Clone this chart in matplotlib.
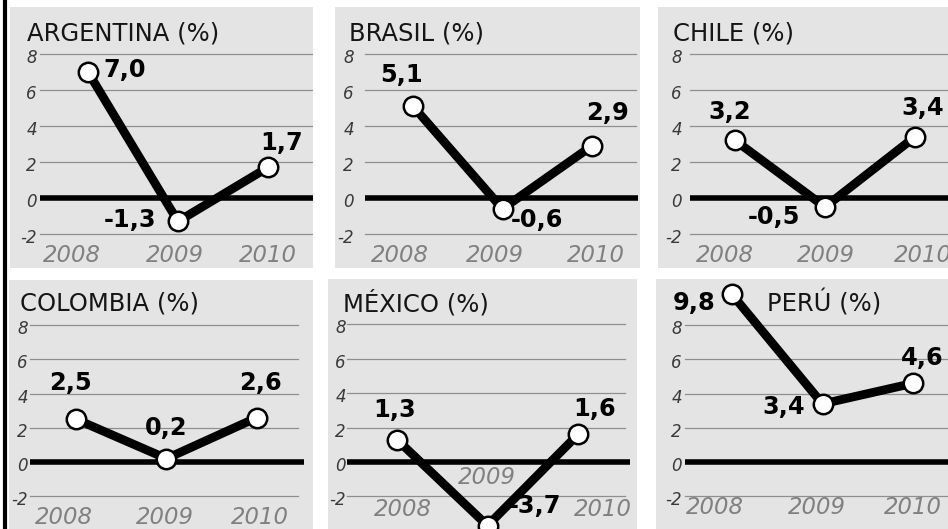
import matplotlib.pyplot as plt
from matplotlib.lines import Line2D

# GDP growth (%), 2008-2010
years = ["2008", "2009", "2010"]
countries = ["ARGENTINA", "BRASIL", "CHILE", "COLOMBIA", "MÉXICO", "PERÚ"]
argentina = [7.0, -1.3, 1.7]
brasil = [5.1, -0.6, 2.9]
chile = [3.2, -0.5, 3.4]
colombia = [2.5, 0.2, 2.6]
mexico = [1.3, -3.7, 1.6]
peru = [9.8, 3.4, 4.6]
y_ticks = [8, 6, 4, 2, 0, -2]

series = [argentina, brasil, chile, colombia, mexico, peru]

W, H = 948, 529

# panel layout in pixels of the reference image
layout = [
    # box (L, T, R, B), first point x, step, zero y, px per unit
    dict(box=(10, 7, 313, 268), p0=88, dx=90, y0=198, s=18.0,
         grid=(40, 313, 313), tickx=37, title=(27, 33),
         yrs=[(72, 255), (175, 255), (268, 255)],
         labels=[(15, 2, 'left'), (-22, 1, 'right'), (14, 24, 'center')]),
    dict(box=(335, 7, 640, 268), p0=413, dx=89.5, y0=198, s=18.0,
         grid=(365, 636, 638), tickx=354, title=(349, 33),
         yrs=[(400, 255), (495, 255), (596, 255)],
         labels=[(-11, 31, 'center'), (8, -11, 'left'), (16, 33, 'center')]),
    dict(box=(658, 7, 948, 268), p0=735, dx=90, y0=198, s=18.0,
         grid=(690, 948, 948), tickx=682, title=(673, 33),
         yrs=[(725, 255), (826, 255), (923, 255)],
         labels=[(-5, 28, 'center'), (-25, -10, 'right'), (8, 29, 'center')]),
    dict(box=(9, 280, 313, 529), p0=76, dx=90.5, y0=462, s=17.1,
         grid=(30, 298, 304), tickx=28, title=(20, 303),
         yrs=[(64, 517), (165, 517), (260, 517)],
         labels=[(-6, 36, 'center'), (0, 31, 'center'), (3, 35, 'center')]),
    dict(box=(328, 279, 637, 529), p0=397, dx=90.5, y0=462, s=17.2,
         grid=(347, 625, 630), tickx=346, title=(343, 303),
         yrs=[(403, 510), (487, 478), (603, 510)],
         labels=[(-2, 30, 'center'), (21, 20, 'left'), (17, 25, 'center')]),
    dict(box=(656, 279, 948, 529), p0=732, dx=90.5, y0=462, s=17.1,
         grid=(685, 948, 948), tickx=682, title=(767, 303),
         yrs=[(715, 508), (817, 508), (913, 508)],
         labels=[(-17, -9, 'right'), (-17, -3, 'right'), (9, 25, 'center')]),
]

fig = plt.figure(figsize=(W / 100, H / 100), dpi=100)
fig.patch.set_facecolor('white')

for name, vals, lay in zip(countries, series, layout):
    L, T, R, B = lay['box']
    p0, dx, y0, s = lay['p0'], lay['dx'], lay['y0'], lay['s']

    def px(x):
        return (x - p0) / dx

    def py(y):
        return (y0 - y) / s

    ax = fig.add_axes([L / W, 1 - B / H, (R - L) / W, (B - T) / H])
    ax.set_facecolor('#e4e4e4')
    ax.set_xlim(px(L), px(R))
    ax.set_ylim(py(B), py(T))
    ax.set_xticks([])
    ax.set_yticks([])
    for sp in ax.spines.values():
        sp.set_visible(False)

    gx0, gx1, zx1 = lay['grid']
    for t in y_ticks:
        if t == 0:
            ax.plot([px(gx0), px(zx1)], [0, 0], color='black', lw=4,
                    solid_capstyle='butt', zorder=2)
        else:
            ax.plot([px(gx0), px(gx1)], [t, t], color='#8f8f8f', lw=0.9,
                    zorder=1)
        ax.text(px(lay['tickx']), t - 4 / s, str(t), ha='right', va='center',
                fontsize=12, style='italic', color='#3a3a3a')

    ax.text(px(lay['title'][0]), py(lay['title'][1]), f"{name} (%)",
            ha='left', va='center', fontsize=17.5, color='#151515')

    for yr, (xc, yc) in zip(years, lay['yrs']):
        ax.text(px(xc), py(yc), yr, ha='center', va='center',
                fontsize=16.4, style='italic', color='#808080', zorder=3)

    ax.plot(range(len(vals)), vals, color='black', lw=6.3, marker='o',
            ms=14, mfc='white', mec='black', mew=1.8, clip_on=False,
            zorder=5)

    for i, (v, (ox, oy, ha)) in enumerate(zip(vals, lay['labels'])):
        ax.annotate(f"{v:.1f}".replace('.', ','), (i, v), xytext=(ox, oy),
                    textcoords='offset pixels', ha=ha, va='center',
                    fontsize=17.3, fontweight='bold', color='black',
                    annotation_clip=False, zorder=6)

# black rule on the left edge
fig.add_artist(Line2D([5 / W, 5 / W], [0, 1], color='black', lw=3,
                      transform=fig.transFigure))

fig.savefig('out.png', dpi=100)
